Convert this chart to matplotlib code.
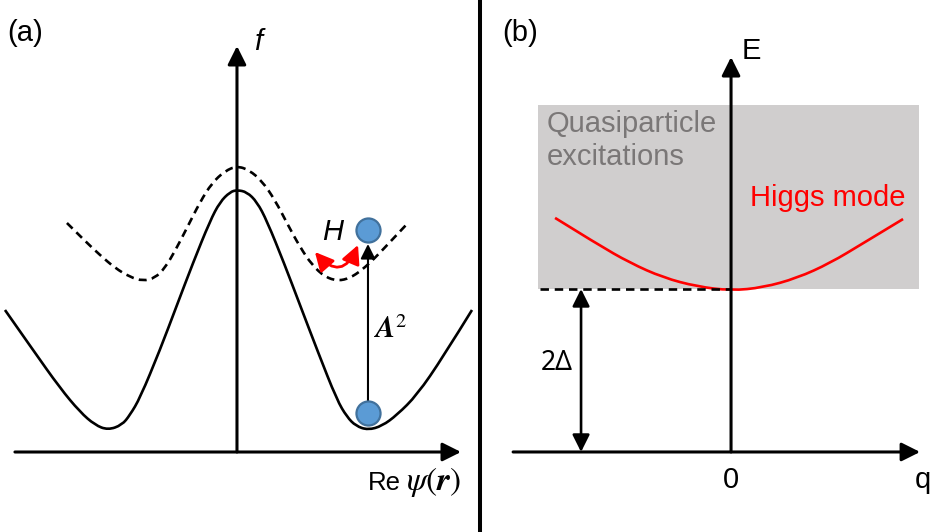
import numpy as np
import matplotlib
matplotlib.use("Agg")
import matplotlib.pyplot as plt
from matplotlib.path import Path
from matplotlib.patches import PathPatch, Rectangle, FancyArrowPatch, ArrowStyle
from matplotlib.lines import Line2D

plt.rcParams["font.family"] = ["Liberation Sans", "DejaVu Sans"]
plt.rcParams["mathtext.fontset"] = "stix"

# ---- Panel (a): free energy landscape f vs Re psi ----
psi_solid = [-1.771, -1.557, -1.351, -1.198, -1.084, -0.985, -0.878, -0.817, -0.740,
             -0.588, -0.458, -0.336, -0.206, -0.130, -0.053, 0.0,
             0.076, 0.153, 0.229, 0.359, 0.481, 0.618, 0.763, 0.840, 0.908,
             1.0, 1.107, 1.221, 1.374, 1.573, 1.794]
f_solid = [1.42, 1.02, 0.64, 0.40, 0.27, 0.22, 0.27, 0.37, 0.54,
           1.02, 1.47, 1.89, 2.31, 2.50, 2.60, 2.62,
           2.60, 2.50, 2.31, 1.89, 1.47, 1.00, 0.52, 0.35, 0.26,
           0.22, 0.26, 0.37, 0.57, 0.95, 1.42]

psi_dashed = [-1.298, -1.160, -1.046, -0.931, -0.817, -0.718, -0.626, -0.550, -0.473,
              -0.382, -0.282, -0.191, -0.092, 0.0,
              0.092, 0.191, 0.290, 0.389, 0.481, 0.573, 0.672, 0.771, 0.863,
              0.954, 1.053, 1.168, 1.305]
f_dashed = [2.29, 2.11, 1.97, 1.84, 1.75, 1.71, 1.74, 1.84, 2.01,
            2.24, 2.50, 2.69, 2.81, 2.86,
            2.82, 2.71, 2.52, 2.27, 2.05, 1.87, 1.75, 1.71, 1.74,
            1.82, 1.94, 2.10, 2.29]

ball_psi = [1.0, 1.0]
ball_f = [0.39, 2.22]

# ---- Panel (b): excitation spectrum E vs q (E in units of 2*Delta) ----
q_higgs = [-1.023, -0.779, -0.587, -0.395, -0.198, 0.0, 0.186, 0.384, 0.576, 0.767, 1.0]
E_higgs = [1.436, 1.276, 1.160, 1.070, 1.015, 0.99, 1.009, 1.067, 1.159, 1.280, 1.429]
gap = 1.0
continuum_top = 2.129
continuum_q = [-1.122, 1.093]


def smooth_path(xs, ys):
    """Quadratic B-spline path using the given points as its control polygon."""
    pts = np.column_stack([xs, ys]).astype(float)
    verts = [pts[0]]
    codes = [Path.MOVETO]
    n = len(pts)
    for i in range(1, n - 1):
        end = pts[i + 1] if i == n - 2 else 0.5 * (pts[i] + pts[i + 1])
        verts += [pts[i], end]
        codes += [Path.CURVE3, Path.CURVE3]
    return Path(verts, codes)


def arrow(ax, start, end, style="-|>", lw=2.2, color="black", scale=14, z=5, **kw):
    st = ArrowStyle(style, head_length=0.8, head_width=0.4)
    p = FancyArrowPatch(start, end, arrowstyle=st, mutation_scale=scale, lw=lw,
                        color=color, shrinkA=0, shrinkB=0, zorder=z, **kw)
    ax.add_patch(p)
    return p


W, H = 939, 532
fig = plt.figure(figsize=(W / 100, H / 100), dpi=100)

# panel (a) axes
axa = fig.add_axes([0, 0, 483 / W, 1])
axa.set_xlim(-1.809, 1.878)
axa.set_ylim(-0.80, 4.52)
axa.axis("off")

axa.add_patch(PathPatch(smooth_path(psi_solid, f_solid), fill=False, lw=1.9,
                        color="black", zorder=3))
axa.add_patch(PathPatch(smooth_path(psi_dashed, f_dashed), fill=False, lw=1.9,
                        color="black", linestyle=(0, (3.0, 2.0)), zorder=3))

arrow(axa, (-1.695, 0), (1.710, 0))
arrow(axa, (0, 0), (0, 4.06))
arrow(axa, (ball_psi[0], ball_f[0] + 0.12), (ball_psi[1], ball_f[1] - 0.14),
      lw=1.5, scale=11, z=4)
arrow(axa, (0.595, 2.00), (0.924, 2.07), style="<|-|>", lw=2.0, color="#ff0000",
      scale=14, z=6, connectionstyle="arc3,rad=0.8")

axa.scatter(ball_psi, ball_f, s=300, color="#5b9bd5", edgecolor="#41719c",
            linewidth=1.6, zorder=7)

axa.text(0.160, 4.10, "f", fontsize=21, style="italic", ha="center", va="center")
axa.text(0.733, 2.20, "H", fontsize=21, style="italic", ha="center", va="center")
axa.text(1.046, 1.22, r"$\boldsymbol{A}^2$", fontsize=21, ha="left", va="center")
axa.text(1.000, -0.31, "Re", fontsize=18.5, ha="left", va="center")
axa.text(1.290, -0.30, r"$\psi(\boldsymbol{r})$", fontsize=24, ha="left", va="center")

# panel (b) axes
axb = fig.add_axes([483 / W, 0, 1 - 483 / W, 1])
axb.set_xlim(-1.442, 1.209)
axb.set_ylim(-0.491, 2.773)
axb.axis("off")

axb.add_patch(Rectangle((continuum_q[0], gap), continuum_q[1] - continuum_q[0],
                        continuum_top - gap, facecolor="#d0cece", edgecolor="none",
                        zorder=1))
axb.add_patch(PathPatch(smooth_path(q_higgs, E_higgs), fill=False, lw=1.9,
                        color="#ff0000", zorder=3))
axb.plot([-1.110, 0], [gap, gap], color="black", lw=1.9,
         dashes=(3.2, 2.2), zorder=3)

arrow(axb, (-1.267, 0), (1.099, 0))
arrow(axb, (0, 0), (0, 2.423))
arrow(axb, (-0.872, 0), (-0.872, gap), style="<|-|>", lw=1.9, scale=13)

axb.text(-1.070, 1.963, "Quasiparticle", fontsize=21, color="#7a7777",
         ha="left", va="baseline")
axb.text(-1.070, 1.761, "excitations", fontsize=21, color="#7a7777",
         ha="left", va="baseline")
axb.text(1.017, 1.509, "Higgs mode", fontsize=21, color="#ff0000",
         ha="right", va="baseline")
axb.text(-1.105, 0.546, "2Δ", fontsize=19, family=["Noto Sans", "DejaVu Sans"],
         ha="left", va="center")
axb.text(0.116, 2.460, "E", fontsize=21, ha="center", va="center")
axb.text(1.116, -0.172, "q", fontsize=21, ha="center", va="center")
axb.text(0.0, -0.172, "0", fontsize=21, ha="center", va="center")

# panel labels and divider
fig.text(7 / W, 1 - 33 / H, "(a)", fontsize=21, ha="left", va="center")
fig.text(502 / W, 1 - 33 / H, "(b)", fontsize=21, ha="left", va="center")
fig.add_artist(Line2D([480 / W, 480 / W], [0, 1], color="black", lw=2.9,
                      transform=fig.transFigure))

fig.savefig("out.png", dpi=100)
